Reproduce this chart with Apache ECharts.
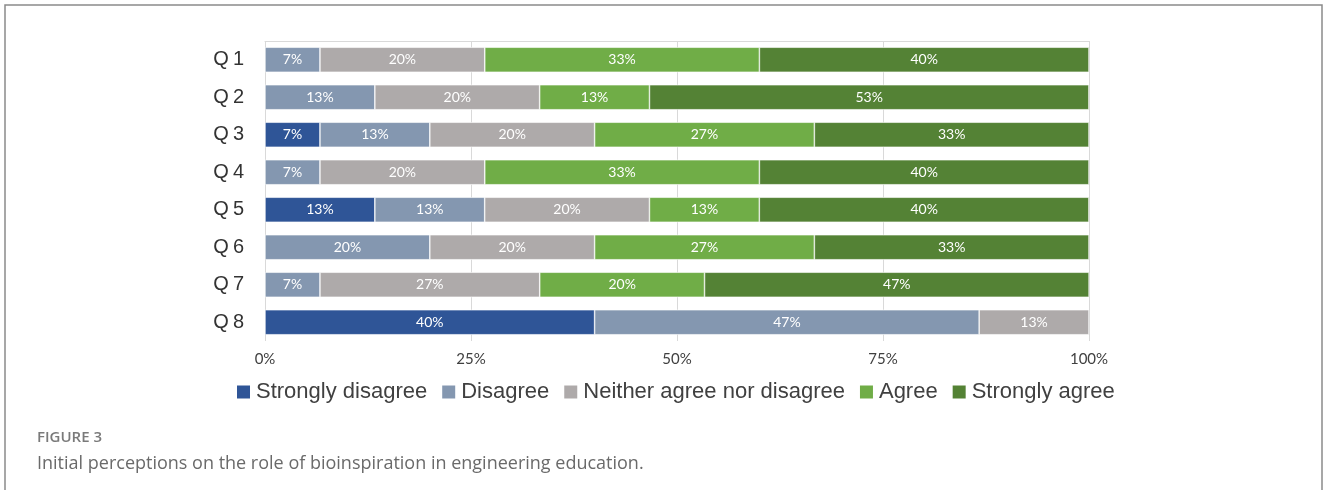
<!DOCTYPE html>
<html>
<head>
<meta charset="utf-8">
<script src="https://cdn.jsdelivr.net/npm/echarts@6/dist/echarts.min.js"></script>
<style>
  html, body { margin: 0; padding: 0; background: #fff; }
  #main { width: 1328px; height: 490px; }
</style>
</head>
<body>
<div id="main"></div>
<script>
// questions, top to bottom
var questions = ['Q1', 'Q2', 'Q3', 'Q4', 'Q5', 'Q6', 'Q7', 'Q8'];
var levels = ['Strongly disagree', 'Disagree', 'Neither agree nor disagree', 'Agree', 'Strongly agree'];
var colors = ['#2f5597', '#8497b0', '#aeaaaa', '#70ad47', '#548235'];
var xTicks = [0, 25, 50, 75, 100];

// percent of answers per question (Q1..Q8)
var stronglyDisagree = [0, 0, 6.67, 0, 13.33, 0, 0, 40];
var disagree         = [6.67, 13.33, 13.33, 6.67, 13.33, 20, 6.67, 46.67];
var neither          = [20, 20, 20, 20, 20, 20, 26.67, 13.33];
var agree            = [33.33, 13.33, 26.67, 33.33, 13.33, 26.67, 20, 0];
var stronglyAgree    = [40, 53.33, 33.33, 40, 40, 33.33, 46.67, 0];

var allSeries = [stronglyDisagree, disagree, neither, agree, stronglyAgree];

var chart = echarts.init(document.getElementById('main'));

var series = allSeries.map(function (vals, k) {
  return {
    name: levels[k],
    type: 'bar',
    stack: 'all',
    barWidth: 25,
    itemStyle: { color: colors[k], borderColor: '#fff', borderWidth: 0.6 },
    label: {
      show: true,
      color: '#fff',
      fontFamily: 'Lato',
      fontSize: 14,
      formatter: function (p) { return p.value ? Math.round(p.value) + '%' : ''; }
    },
    data: vals.map(function (v) { return v || null; })
  };
});

var option = {
  animation: false,
  color: colors,
  grid: { left: 265, right: 239, top: 41, height: 300 },
  legend: {
    data: levels,
    top: 376,
    left: 230,
    icon: 'rect',
    itemWidth: 15,
    itemHeight: 15,
    itemGap: 13,
    textStyle: { fontFamily: 'Liberation Sans', fontSize: 22, color: '#404040' }
  },
  xAxis: [{
    type: 'value',
    min: 0,
    max: 100,
    interval: 25,
    axisLine: { show: false },
    axisTick: { show: false },
    splitLine: { show: true, lineStyle: { color: '#d9d9d9', width: 1 } },
    axisLabel: {
      fontFamily: 'Lato',
      fontSize: 15,
      color: '#404040',
      margin: 11,
      formatter: function (v) { return xTicks.indexOf(v) >= 0 ? v + '%' : ''; }
    }
  }, {
    type: 'value',
    position: 'top',
    min: 0,
    max: 100,
    axisLine: { show: true, lineStyle: { color: '#d9d9d9' } },
    axisTick: { show: false },
    axisLabel: { show: false },
    splitLine: { show: false }
  }],
  yAxis: {
    type: 'category',
    inverse: true,
    data: questions,
    axisLine: { show: false },
    axisTick: { show: false },
    axisLabel: {
      fontFamily: 'Liberation Sans',
      fontSize: 20,
      color: '#333333',
      margin: 21,
      formatter: function (v) { return v.split('').join('\u2009'); }
    }
  },
  graphic: [
    {
      type: 'rect',
      shape: { x: 5, y: 5, width: 1317, height: 500 },
      style: { fill: 'none', stroke: '#8a8a8a', lineWidth: 1.5 },
      silent: true
    },
    {
      type: 'text',
      left: 37,
      top: 430,
      style: { text: 'FIGURE 3', fontFamily: 'Open Sans', fontWeight: 600, fontSize: 15, fill: '#7a7a7a' }
    },
    {
      type: 'text',
      left: 37,
      top: 455,
      style: {
        text: 'Initial perceptions on the role of bioinspiration in engineering education.',
        fontFamily: 'Open Sans', fontSize: 18, fill: '#6a6a6a'
      }
    }
  ],
  series: series
};

chart.setOption(option);
</script>
</body>
</html>
